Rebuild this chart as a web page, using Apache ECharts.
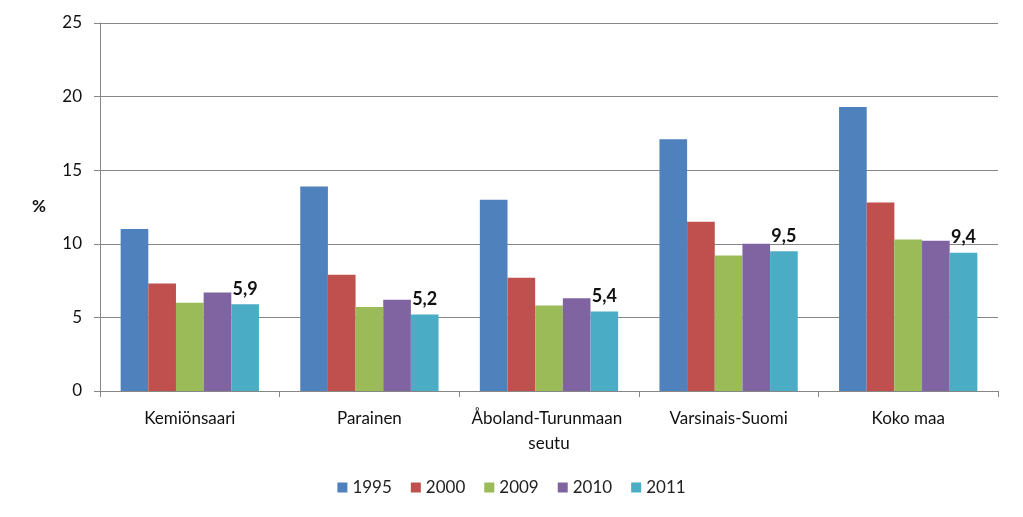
<!DOCTYPE html>
<html>
<head>
<meta charset="utf-8">
<script src="https://cdn.jsdelivr.net/npm/echarts@6/dist/echarts.min.js"></script>
<style>html,body{margin:0;padding:0;background:#fff}#c{width:1023px;height:517px}</style>
</head>
<body>
<div id="c"></div>
<script>
const categories = ["Kemiönsaari", "Parainen", "Åboland-Turunmaan seutu", "Varsinais-Suomi", "Koko maa"];
const years = ["1995", "2000", "2009", "2010", "2011"];
const v1995 = [11.0, 13.9, 13.0, 17.1, 19.3];
const v2000 = [7.3, 7.9, 7.7, 11.5, 12.8];
const v2009 = [6.0, 5.7, 5.8, 9.2, 10.3];
const v2010 = [6.7, 6.2, 6.3, 10.0, 10.2];
const v2011 = [5.9, 5.2, 5.4, 9.5, 9.4];
const yTicks = [0, 5, 10, 15, 20, 25];

const colors = ["#4F81BD", "#C0504D", "#9BBB59", "#8064A2", "#4BACC6"];
const values = [v1995, v2000, v2009, v2010, v2011];
const font = "Lato, 'Open Sans', sans-serif";

const chart = echarts.init(document.getElementById('c'), null, {renderer: 'canvas'});
chart.setOption({
  animation: false,
  backgroundColor: '#fff',
  textStyle: {fontFamily: font},
  grid: {left: 100, right: 25, top: 23, bottom: 126, containLabel: false},
  legend: {
    bottom: 16, left: 'center',
    itemWidth: 10, itemHeight: 10, itemGap: 19,
    icon: 'rect',
    textStyle: {fontSize: 17, color: '#222', fontFamily: font},
    data: years
  },
  xAxis: {
    type: 'category',
    data: categories,
    axisLine: {lineStyle: {color: '#868686', width: 1}},
    axisTick: {show: true, length: 6, lineStyle: {color: '#868686'}},
    axisLabel: {fontSize: 17, color: '#111', margin: 15, lineHeight: 25, width: 178, overflow: 'break', interval: 0, fontFamily: font}
  },
  yAxis: {
    type: 'value',
    min: yTicks[0], max: yTicks[yTicks.length - 1], interval: 5,
    name: '%',
    nameLocation: 'middle',
    nameRotate: 0,
    nameGap: 54,
    nameTextStyle: {fontSize: 17, fontWeight: 'bold', color: '#111', fontFamily: font, padding: [0, 0, 24, 0]},
    axisLine: {show: true, lineStyle: {color: '#868686', width: 1}},
    axisTick: {show: true, length: 6, lineStyle: {color: '#868686'}},
    axisLabel: {fontSize: 17, color: '#111', margin: 18, fontFamily: font},
    splitLine: {lineStyle: {color: '#868686', width: 1}}
  },
  series: years.map((y, i) => ({
    name: y,
    type: 'bar',
    data: values[i],
    barGap: '0%',
    barCategoryGap: '23%',
    itemStyle: {color: colors[i]},
    label: i === 4 ? {
      show: true, position: 'top', distance: 6,
      fontSize: 18, fontWeight: 'bold', color: '#111', fontFamily: font,
      formatter: p => String(p.value.toFixed(1)).replace('.', ',')
    } : {show: false}
  }))
});
</script>
</body>
</html>
